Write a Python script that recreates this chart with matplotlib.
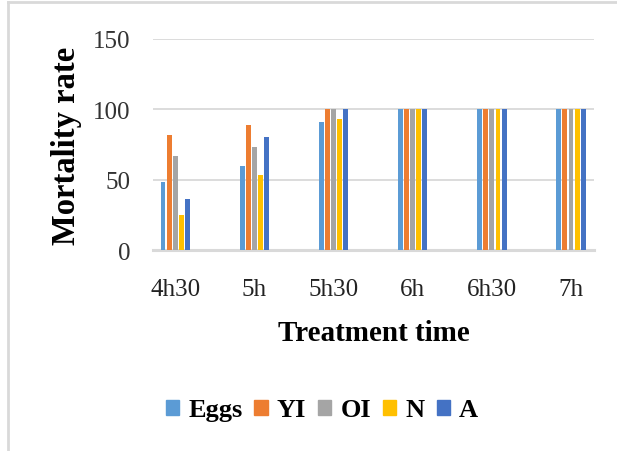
import matplotlib
matplotlib.use("Agg")
import matplotlib.pyplot as plt
from matplotlib.lines import Line2D
import numpy as np

plt.rcParams["font.family"] = ["Liberation Serif", "DejaVu Serif"]

times = ["4h30", "5h", "5h30", "6h", "6h30", "7h"]
stages = ["Eggs", "YI", "OI", "N", "A"]
eggs = [48, 60, 91, 100, 100, 100]
yi = [82, 89, 100, 100, 100, 100]
oi = [67, 73, 100, 100, 100, 100]
n = [25, 53, 93, 100, 100, 100]
a = [36, 80, 100, 100, 100, 100]
yticks = [0, 50, 100, 150]

series = [eggs, yi, oi, n, a]
colors = ["#5B9BD5", "#ED7D31", "#A5A5A5", "#FFC000", "#4472C4"]

W, H = 617, 452
fig = plt.figure(figsize=(W / 100, H / 100), dpi=100)
fig.patch.set_facecolor("white")

# plot area in pixels: x 153..594, y 40..251
ax = fig.add_axes([153 / W, 1 - 251 / H, (594 - 153) / W, (251 - 40) / H])

x = np.arange(len(times))
step, bw = 0.077, 0.062
for i, (vals, c, lab) in enumerate(zip(series, colors, stages)):
    ax.bar(x + (i - 2) * step, vals, width=bw, color=c, label=lab, zorder=3)

ax.set_xlim(-0.28, 5.29)
ax.set_ylim(0, 150)
ax.set_yticks(yticks)
ax.set_yticklabels([str(t) for t in yticks], fontsize=18, color="#333333")
ax.set_xticks(x)
ax.set_xticklabels(times, fontsize=18, color="#222222")
ax.tick_params(axis="both", length=0)
ax.tick_params(axis="y", pad=16)
ax.tick_params(axis="x", pad=20)
ax.grid(axis="y", color="#d9d9d9", lw=1.3, zorder=0)
for s in ["top", "right", "left"]:
    ax.spines[s].set_visible(False)
ax.spines["bottom"].set_color("#d9d9d9")
ax.spines["bottom"].set_linewidth(2.2)

ax.set_ylabel("Mortality rate", fontsize=23.5, fontweight="bold", labelpad=8)
ax.set_xlabel("Treatment time", fontsize=21, fontweight="bold", labelpad=14)

handles = [plt.Rectangle((0, 0), 1, 1, color=c) for c in colors]
fig.legend(handles, stages, loc="center", bbox_to_anchor=(322 / W, 1 - 411 / H),
           ncol=5, frameon=False, prop={"weight": "bold", "size": 19},
           handlelength=0.5, handleheight=0.5, handletextpad=0.35,
           columnspacing=0.45)

# outer frame of the screenshot
fig.add_artist(Line2D([8 / W, 8 / W], [0, 1 - 3 / H], transform=fig.transFigure,
                      color="#d9d9d9", lw=2))
fig.add_artist(Line2D([8 / W, 1], [1 - 3 / H, 1 - 3 / H], transform=fig.transFigure,
                      color="#d9d9d9", lw=2))

fig.savefig("out.png", dpi=100, facecolor="white")
